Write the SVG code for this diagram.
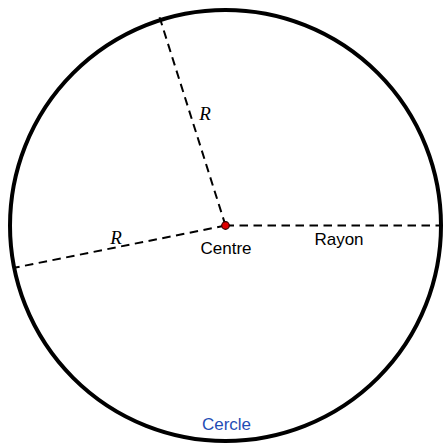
<svg xmlns="http://www.w3.org/2000/svg" width="443" height="444" viewBox="0 0 443 444">
<style>
.dash{stroke:#000;stroke-width:2;stroke-dasharray:8.5 5.5;fill:none}
.lbl{font-family:"Liberation Sans",Arial,sans-serif;font-size:17px;text-anchor:middle}
.r{font-family:"Liberation Serif","Times New Roman",serif;font-style:italic;font-size:19px;text-anchor:middle}
</style>
<rect width="443" height="444" fill="#fff"/>
<g id="cercle">
<circle cx="225.5" cy="225.5" r="215.5" fill="none" stroke="#000" stroke-width="4"/>
<text class="lbl" x="226.5" y="430" fill="#1f4db5">Cercle</text>
</g>
<g id="connectors">
<line class="dash" x1="225.5" y1="225.5" x2="441" y2="225.5"/>
<line class="dash" x1="225.5" y1="225.5" x2="159.5" y2="17"/>
<line class="dash" x1="225.5" y1="225.5" x2="13" y2="268"/>
</g>
<g id="labels">
<text class="r" x="205" y="120">R</text>
<text class="r" x="116" y="244">R</text>
<text class="lbl" x="339" y="245">Rayon</text>
</g>
<g id="centre">
<circle cx="225.5" cy="225.5" r="3.8" fill="#e00000" stroke="#300" stroke-width="1.2"/>
<text class="lbl" x="226" y="253.5">Centre</text>
</g>
</svg>
